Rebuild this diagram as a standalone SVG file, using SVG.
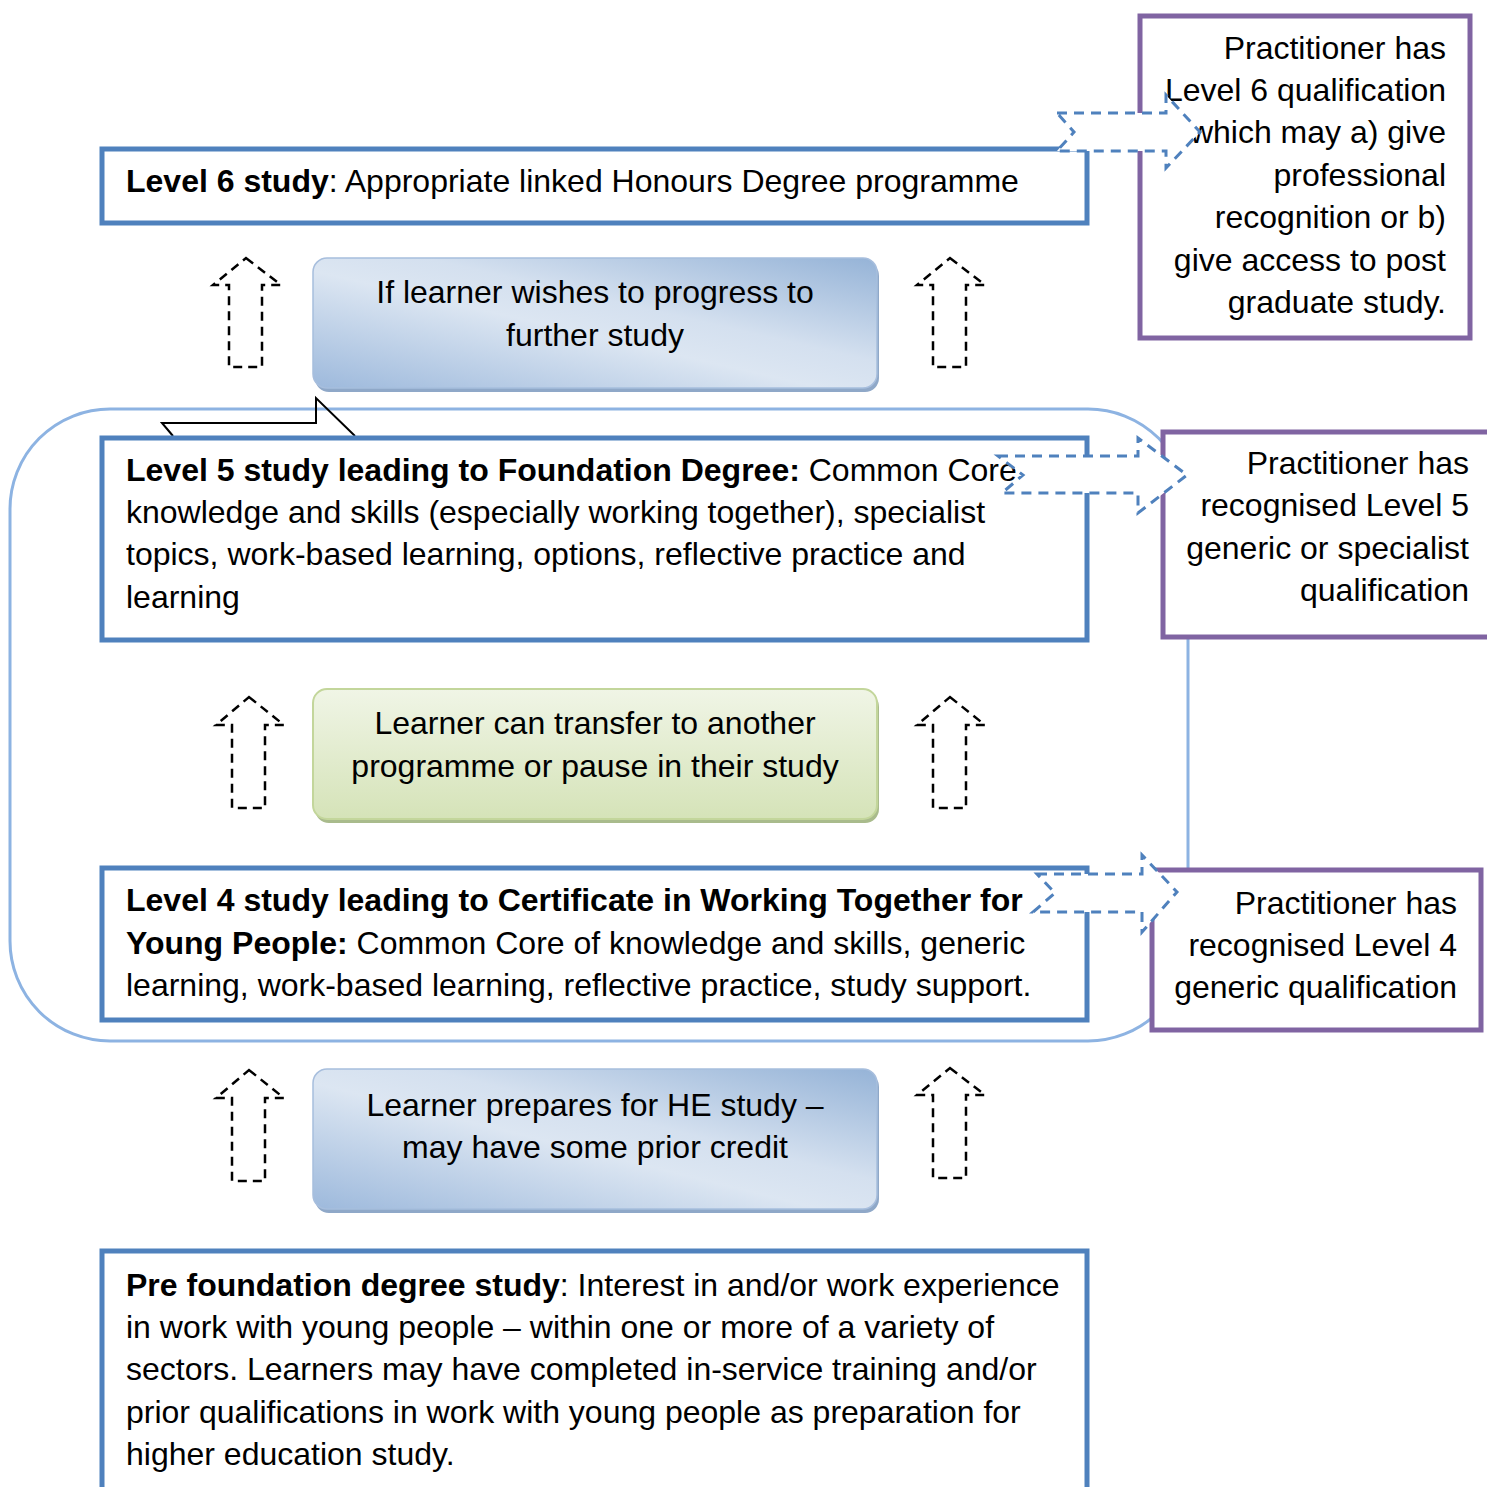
<svg xmlns="http://www.w3.org/2000/svg" width="1487" height="1487" viewBox="0 0 1487 1487">
<defs>
<linearGradient id="gBlue" x1="0" y1="1" x2="1" y2="0">
<stop offset="0" stop-color="#9DB9DC"/>
<stop offset="0.45" stop-color="#DCE6F2"/>
<stop offset="0.6" stop-color="#D4E0EF"/>
<stop offset="1" stop-color="#95B3D7"/>
</linearGradient>
<linearGradient id="gGreen" x1="0" y1="0" x2="0" y2="1">
<stop offset="0" stop-color="#F0F5E6"/>
<stop offset="1" stop-color="#D5E3B8"/>
</linearGradient>
<style>
text{font-family:"Liberation Sans",Arial,sans-serif;font-size:32px;fill:#000}
.b{font-weight:bold}
.lvl{fill:#fff;stroke:#4F81BD;stroke-width:5}
.pur{fill:#fff;stroke:#8064A2;stroke-width:5}
.up{fill:none;stroke:#000;stroke-width:2.5;stroke-dasharray:9 6}
.rt{fill:#fff;stroke:#4F81BD;stroke-width:3;stroke-dasharray:10 7}
.mid{text-anchor:middle}
.end{text-anchor:end}
</style>
</defs>

<g id="loop">
<rect x="10" y="409" width="1178" height="632" rx="100" ry="100" fill="none" stroke="#8DB3E2" stroke-width="3"/>
</g>
<g id="bent-arrow">
<polyline points="173,436 162,423 316,423 316,398 355,436" fill="none" stroke="#000" stroke-width="2"/>
</g>

<g id="level6">
<rect class="lvl" x="102" y="149" width="985" height="74"/>
<text x="126" y="192"><tspan class="b">Level 6 study</tspan>: Appropriate linked Honours Degree programme</text>
</g>

<g id="level5">
<rect class="lvl" x="102" y="438" width="985" height="202"/>
<text x="126" y="481"><tspan class="b">Level 5 study leading to Foundation Degree:</tspan> Common Core</text>
<text x="126" y="523">knowledge and skills (especially working together), specialist</text>
<text x="126" y="565">topics, work-based learning, options, reflective practice and</text>
<text x="126" y="608">learning</text>
</g>

<g id="level4">
<rect class="lvl" x="102" y="868" width="985" height="152"/>
<text x="126" y="911" class="b">Level 4 study leading to Certificate in Working Together for</text>
<text x="126" y="954"><tspan class="b">Young People:</tspan> Common Core of knowledge and skills, generic</text>
<text x="126" y="996">learning, work-based learning, reflective practice, study support.</text>
</g>

<g id="prefoundation">
<rect class="lvl" x="102" y="1251" width="985" height="260"/>
<text x="126" y="1296"><tspan class="b">Pre foundation degree study</tspan>: Interest in and/or work experience</text>
<text x="126" y="1338">in work with young people – within one or more of a variety of</text>
<text x="126" y="1380">sectors. Learners may have completed in-service training and/or</text>
<text x="126" y="1423">prior qualifications in work with young people as preparation for</text>
<text x="126" y="1465">higher education study.</text>
</g>

<g id="progress">
<rect x="315" y="262" width="564" height="130" rx="14" fill="#8FA8C8"/>
<rect x="313" y="258" width="564" height="130" rx="14" fill="url(#gBlue)" stroke="#A7BEDD" stroke-width="1.5"/>
<text class="mid" x="595" y="303">If learner wishes to progress to</text>
<text class="mid" x="595" y="346">further study</text>
</g>

<g id="transfer">
<rect x="315" y="693" width="564" height="130" rx="14" fill="#A9BB8C"/>
<rect x="313" y="689" width="564" height="130" rx="14" fill="url(#gGreen)" stroke="#C3D69B" stroke-width="2"/>
<text class="mid" x="595" y="734">Learner can transfer to another</text>
<text class="mid" x="595" y="777">programme or pause in their study</text>
</g>

<g id="prepare">
<rect x="315" y="1073" width="564" height="140" rx="14" fill="#8FA8C8"/>
<rect x="313" y="1069" width="564" height="140" rx="14" fill="url(#gBlue)" stroke="#A7BEDD" stroke-width="1.5"/>
<text class="mid" x="595" y="1116">Learner prepares for HE study –</text>
<text class="mid" x="595" y="1158">may have some prior credit</text>
</g>

<g id="outcome6">
<rect class="pur" x="1140" y="16" width="330" height="322"/>
<text class="end" x="1446" y="59">Practitioner has</text>
<text class="end" x="1446" y="101">Level 6 qualification</text>
<text class="end" x="1446" y="143">which may a) give</text>
<text class="end" x="1446" y="186">professional</text>
<text class="end" x="1446" y="228">recognition or b)</text>
<text class="end" x="1446" y="271">give access to post</text>
<text class="end" x="1446" y="313">graduate study.</text>
</g>

<g id="outcome5">
<rect class="pur" x="1163" y="432" width="340" height="205"/>
<text class="end" x="1469" y="474">Practitioner has</text>
<text class="end" x="1469" y="516">recognised Level 5</text>
<text class="end" x="1469" y="559">generic or specialist</text>
<text class="end" x="1469" y="601">qualification</text>
</g>

<g id="outcome4">
<rect class="pur" x="1152" y="870" width="329" height="160"/>
<text class="end" x="1457" y="914">Practitioner has</text>
<text class="end" x="1457" y="956">recognised Level 4</text>
<text class="end" x="1457" y="998">generic qualification</text>
</g>

<g id="connectors">
<polygon class="up" points="246,258 281,285 262,285 262,367 229,367 229,285 213,285"/>
<polygon class="up" points="950,258 985,285 966,285 966,367 933,367 933,285 917,285"/>
<polygon class="up" points="249,697 284,725 265,725 265,808 232,808 232,725 216,725"/>
<polygon class="up" points="950,697 985,725 966,725 966,808 933,808 933,725 917,725"/>
<polygon class="up" points="249,1070 284,1098 265,1098 265,1181 232,1181 232,1098 216,1098"/>
<polygon class="up" points="950,1068 985,1095 966,1095 966,1178 933,1178 933,1095 917,1095"/>
<polygon class="rt" points="1057,113 1166,113 1166,95 1200,132 1166,168 1166,151 1057,151 1074,132"/>
<polygon class="rt" points="998,456 1138,456 1138,438 1187,475 1138,513 1138,493 1002,493 1023,475"/>
<polygon class="rt" points="1037,874 1142,874 1142,855 1177,892 1142,932 1142,912 1033,912 1055,893"/>
</g>
</svg>
